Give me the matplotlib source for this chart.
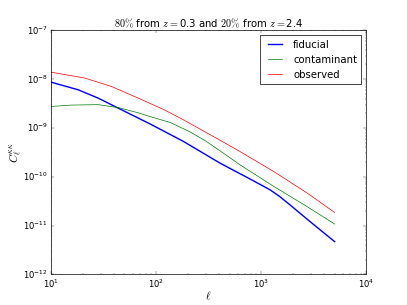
import matplotlib
matplotlib.use("Agg")
import matplotlib.pyplot as plt

plt.style.use("classic")

ell_fid = [10, 18.2, 28.2, 47.1, 87.7, 182, 407, 785, 1218, 1500, 1890, 2930, 5000]
cl_fid = [8.69e-9, 6.04e-9, 4.08e-9, 2.35e-9, 1.21e-9, 5.31e-10, 1.90e-10, 9.0e-11,
          5.40e-11, 3.95e-11, 2.64e-11, 1.20e-11, 4.7e-12]

ell_con = [10, 15.7, 28.2, 43.8, 67.8, 87.7, 135.8, 210.8, 290, 407, 631, 1310, 2720, 5000]
cl_con = [2.75e-9, 2.94e-9, 3.00e-9, 2.61e-9, 2.04e-9, 1.71e-9, 1.30e-9, 8.3e-10,
          5.59e-10, 3.4e-10, 1.75e-10, 6.41e-11, 2.47e-11, 1.08e-11]

ell_obs = [10, 21.1, 37.8, 67.8, 120, 182, 378, 631, 1310, 2720, 5000]
cl_obs = [1.39e-8, 1.05e-8, 7.05e-9, 4.08e-9, 2.35e-9, 1.47e-9, 6.12e-10, 3.28e-10,
          1.29e-10, 4.7e-11, 1.86e-11]

fig = plt.figure(figsize=(8, 6), dpi=50.875)
ax = fig.add_subplot(111)
ax.loglog(ell_fid, cl_fid, 'b-', lw=2, label='fiducial')
ax.loglog(ell_con, cl_con, 'g-', lw=1, label='contaminant')
ax.loglog(ell_obs, cl_obs, 'r-', lw=1, label='observed')
ax.set_xlim(10, 1e4)
ax.set_ylim(1e-12, 1e-7)
ax.set_xlabel(r'$\ell$', fontsize=16, labelpad=0)
ax.set_ylabel(r'$C_\ell^{\kappa\kappa}$', fontsize=16, labelpad=-2)
ax.set_title(r'$80\%$ from $z=$0.3 and $20\%$ from $z=$2.4')
ax.legend(loc='upper right')
fig.savefig("out.png", dpi=50.875)
